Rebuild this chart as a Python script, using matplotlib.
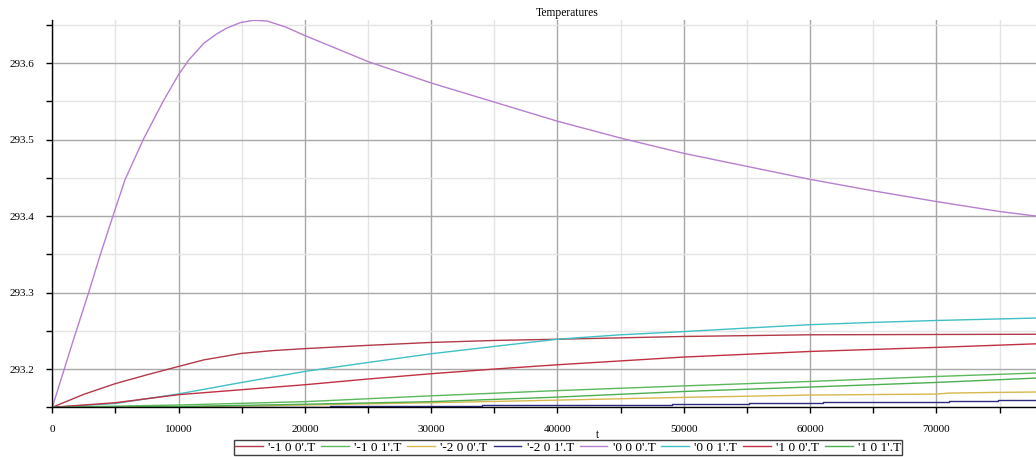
import numpy as np
import matplotlib.pyplot as plt
from matplotlib.ticker import MultipleLocator, FormatStrFormatter

# values
t_000 = [0, 1667, 2860, 3790, 4800, 5770, 7230, 8810, 10000, 10800, 12000, 13000,
         13850, 14900, 15960, 17020, 18500, 20000, 22800, 25000, 30000, 35000, 40000,
         45000, 50000, 55000, 60000, 65000, 70000, 75000, 77900]
T_000 = [293.150, 293.238, 293.299, 293.349, 293.400, 293.448, 293.501, 293.551,
         293.585, 293.604, 293.626, 293.638, 293.646, 293.653, 293.656, 293.655,
         293.647, 293.636, 293.617, 293.602, 293.574, 293.549, 293.524, 293.502,
         293.482, 293.465, 293.448, 293.433, 293.419, 293.406, 293.400]

t_m100 = [0, 2500, 5000, 7500, 10000, 12000, 15000, 17500, 20000, 25000, 30000,
          35000, 40000, 50000, 60000, 70000, 77900]
T_m100 = [293.150, 293.167, 293.181, 293.1925, 293.2034, 293.212, 293.2205, 293.2242,
          293.2267, 293.231, 293.2348, 293.2374, 293.239, 293.2426, 293.2448,
          293.2452, 293.2455]

t_100 = [0, 5000, 10000, 15000, 20000, 25000, 30000, 35000, 40000, 50000, 60000,
         70000, 77900]
T_100 = [293.150, 293.156, 293.1665, 293.173, 293.1795, 293.187, 293.1939, 293.200,
         293.2056, 293.2157, 293.223, 293.2283, 293.233]

t_001 = [0, 5000, 10000, 15000, 20000, 25000, 30000, 35000, 40000, 45000, 50000,
         55000, 60000, 65000, 70000, 77900]
T_001 = [293.150, 293.155, 293.1675, 293.1825, 293.1969, 293.2086, 293.220, 293.2296,
         293.239, 293.2448, 293.249, 293.2536, 293.258, 293.261, 293.2635, 293.2667]

t_green = [0, 10000, 20000, 30000, 39500, 50000, 60000, 70000, 77900]
T_m101 = [293.150, 293.153, 293.1574, 293.165, 293.1715, 293.178, 293.1838, 293.1903, 293.1948]
T_101 = [293.150, 293.151, 293.154, 293.1574, 293.163, 293.1707, 293.1765, 293.1825, 293.1882]

t_m200 = [0, 10000, 20000, 30000, 39500, 50000, 60000, 70000, 71000, 74900, 77900]
T_m200 = [293.150, 293.1505, 293.153, 293.156, 293.1592, 293.163, 293.166, 293.1673,
          293.1686, 293.1695, 293.170]

t_m201 = [0, 10000, 22000, 34000, 42300, 49100, 55200, 61000, 66200, 71000, 74900, 77900]
T_m201 = [293.150, 293.1505, 293.1515, 293.1525, 293.1535, 293.1545, 293.1555,
          293.1565, 293.1575, 293.1585, 293.1595, 293.1595]

labels = ["'-1 0 0'.T", "'-1 0 1'.T", "'-2 0 0'.T", "'-2 0 1'.T",
          "'0 0 0'.T", "'0 0 1'.T", "'1 0 0'.T", "'1 0 1'.T"]

plt.rcParams['font.family'] = ['Liberation Serif', 'DejaVu Serif']

W, H = 1036, 457
fig = plt.figure(figsize=(W / 100, H / 100), dpi=100)
ax = fig.add_axes([52.3 / W, (H - 407.3) / H, (W - 52.3) / W, (407.3 - 19.5) / H])

l1, = ax.plot(t_m100, T_m100, color='#b23a48', lw=1)
l2, = ax.plot(t_green, T_m101, color='#5cb85c', lw=1)
l3, = ax.plot(t_m200, T_m200, color='#d8b84c', lw=1)
l4, = ax.plot(t_m201, T_m201, color='#2b2b80', lw=1, drawstyle='steps-post')
l5, = ax.plot(t_000, T_000, color='#b77fcf', lw=1)
l6, = ax.plot(t_001, T_001, color='#3fbfc6', lw=1)
l7, = ax.plot(t_100, T_100, color='#c03040', lw=1)
l8, = ax.plot(t_green, T_101, color='#4caf50', lw=1)

ax.set_xlim(0, 77890)
ax.set_ylim(293.15, 293.657)

ax.xaxis.set_major_locator(MultipleLocator(10000))
ax.xaxis.set_minor_locator(MultipleLocator(5000))
ax.yaxis.set_major_locator(MultipleLocator(0.1))
ax.yaxis.set_minor_locator(MultipleLocator(0.05))
ax.yaxis.set_major_formatter(FormatStrFormatter('%.1f'))
ax.xaxis.set_major_formatter(FormatStrFormatter('%d'))

ax.grid(which='major', color='#a8a8a8', lw=1)
ax.grid(which='minor', color='#e4e4e4', lw=1)
ax.set_axisbelow(True)

for s in ['top', 'right']:
    ax.spines[s].set_visible(False)
for s in ['left', 'bottom']:
    ax.spines[s].set_color('black')
    ax.spines[s].set_linewidth(1)

ax.tick_params(which='both', direction='out', length=4, width=1, color='black')
ax.tick_params(axis='y', labelsize=8, pad=9)
ax.tick_params(axis='x', labelsize=8, pad=9)

fig.text(567 / W, 1 - 13 / H, 'Temperatures', ha='center', va='center', fontsize=8.3)
fig.text(597 / W, 1 - 435 / H, 't', ha='center', va='center', fontsize=8.3)

leg = fig.legend([l1, l2, l3, l4, l5, l6, l7, l8], labels, loc='center',
                 bbox_to_anchor=(568 / W, 1 - 447.5 / H), ncol=8, fontsize=9.5,
                 frameon=True, fancybox=False, edgecolor='#404040', framealpha=1,
                 handlelength=2.1, handletextpad=0.4, columnspacing=0.45,
                 borderpad=0.1, borderaxespad=0)
leg.get_frame().set_linewidth(1)

fig.savefig('out.png', dpi=100)
